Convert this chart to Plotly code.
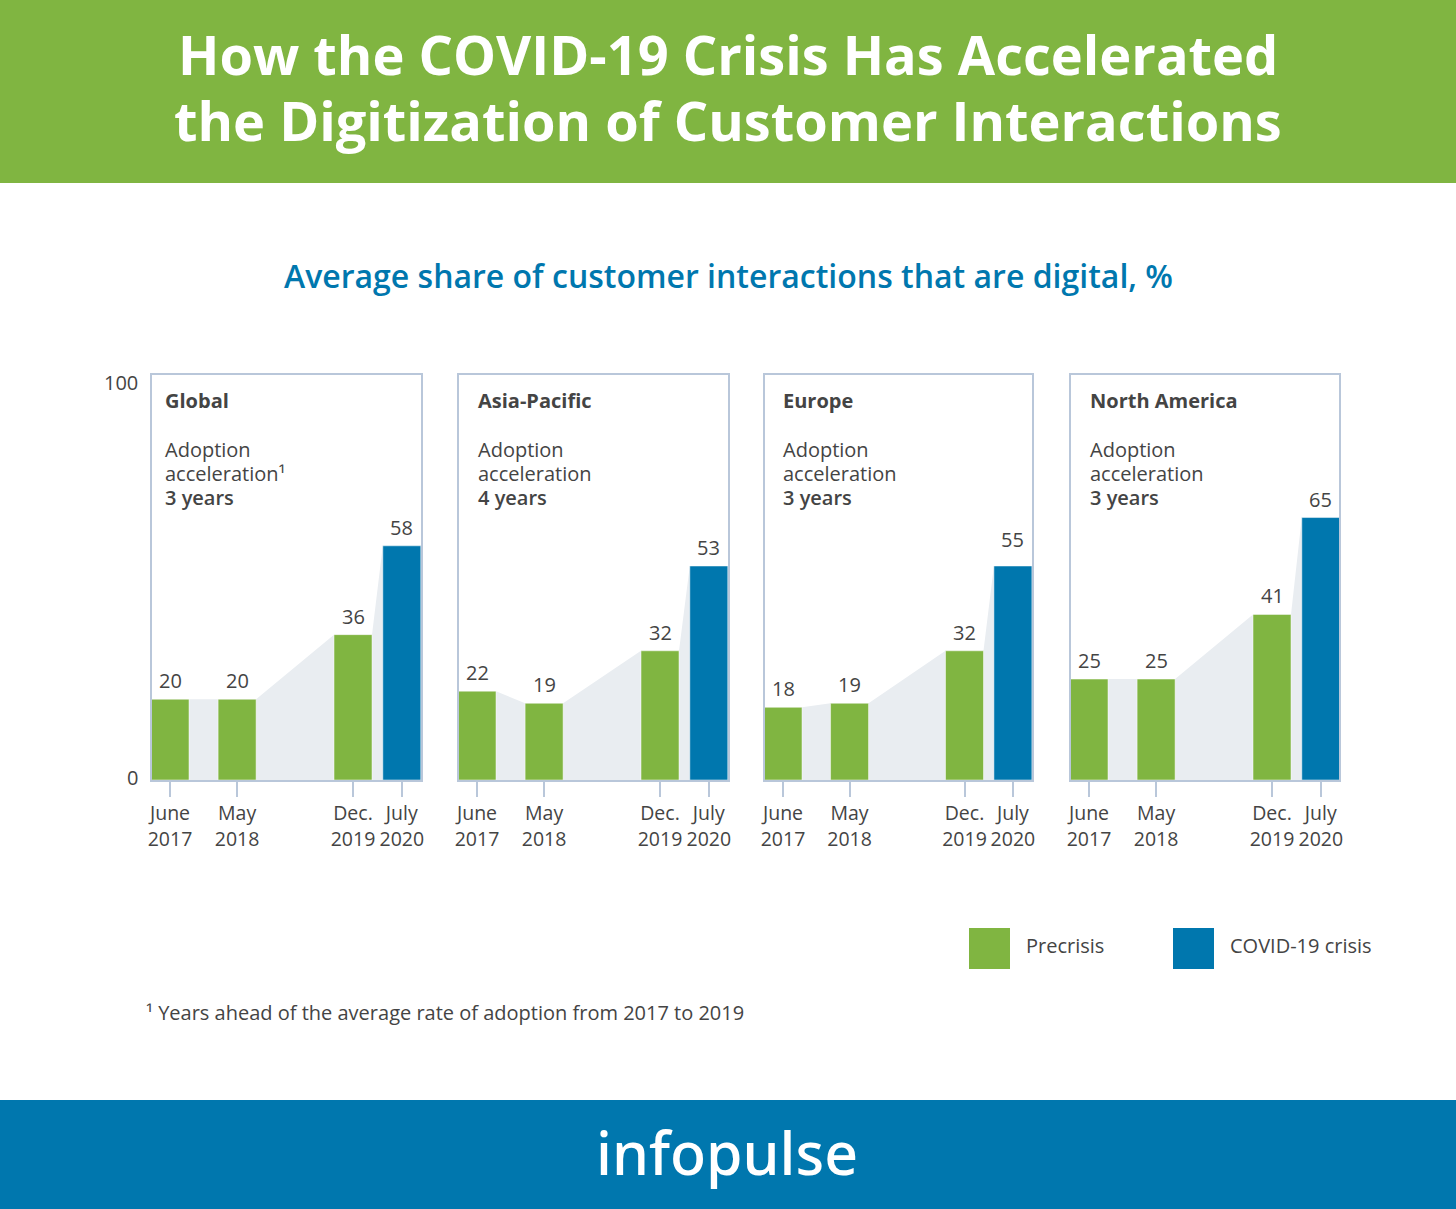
import plotly.graph_objects as go

W, H = 1456, 1209
GREEN, BLUE, AREA, FRAME, TEXT = "#80b541", "#0077ae", "#e9edf1", "#b9c7da", "#444444"
FONT = "Open Sans"

# ---- data ----
regions = ["Global", "Asia-Pacific", "Europe", "North America"]
acceleration = ["3 years", "4 years", "3 years", "3 years"]
months_since_start = [0, 11, 30, 38]
period_labels = ["June<br>2017", "May<br>2018", "Dec.<br>2019", "July<br>2020"]
global_values = [20, 20, 36, 58]
asia_values = [22, 19, 32, 53]
europe_values = [18, 19, 32, 55]
north_america_values = [25, 25, 41, 65]
# In the source the Europe July 2020 bar is drawn at the height of 53
europe_drawn = [18, 19, 32, 53]

labels_by_region = [global_values, asia_values, europe_values, north_america_values]
heights_by_region = [global_values, asia_values, europe_drawn, north_america_values]
colors = [GREEN, GREEN, GREEN, BLUE]

# ---- layout (pixels of the picture) ----
panel_edges = [(151, 422), (458, 729), (764, 1033), (1070, 1340)]
panel_scales = [6.1, 6.1, 6.05, 6.1]
text_left = [163, 476, 781, 1088]
plot_top, plot_bottom = 375, 780
bar_px = 38
first_bar_offset = 18
y_top = 100.3


def px(x):
    return x / W


def py(y):
    return 1 - y / H


def note(x, y, text, size=20, color=TEXT, anchor="left", weight=None):
    font = dict(family=FONT, size=size, color=color)
    if weight:
        font["weight"] = weight
    return dict(xref="paper", yref="paper", x=px(x), y=py(y), text=text, showarrow=False,
                xanchor=anchor, yanchor="middle", font=font, align=anchor)


fig = go.Figure()
annotations = []
shapes = [
    dict(type="rect", xref="paper", yref="paper", x0=0, x1=1, y0=py(183), y1=1, fillcolor=GREEN, line_width=0, layer="below"),
    dict(type="rect", xref="paper", yref="paper", x0=0, x1=1, y0=0, y1=py(1100), fillcolor=BLUE, line_width=0, layer="below"),
    dict(type="rect", xref="paper", yref="paper", x0=px(969), x1=px(1010), y0=py(969), y1=py(928), fillcolor=GREEN, line_width=0),
    dict(type="rect", xref="paper", yref="paper", x0=px(1173), x1=px(1214), y0=py(969), y1=py(928), fillcolor=BLUE, line_width=0),
]

for i, region in enumerate(regions):
    n = i + 1
    over = n + 4
    xa, ya, ya_over = f"x{n}", f"y{n}", f"y{over}"
    left, right = panel_edges[i]
    left, right = left + 1, right - 1
    scale = panel_scales[i]
    bar_width = bar_px / scale
    x_left = -first_bar_offset / scale
    heights = heights_by_region[i]

    # grey silhouette that links the bars (base axes, so it lies under the bars)
    area_x, area_y = [], []
    for m, h in zip(months_since_start, heights):
        area_x += [m - bar_width / 2, m + bar_width / 2]
        area_y += [h, h]
    fig.add_trace(go.Scatter(x=area_x, y=area_y, xaxis=xa, yaxis=ya, mode="lines", line_width=0,
                             fill="tozeroy", fillcolor=AREA, hoverinfo="skip", showlegend=False))
    fig.add_trace(go.Bar(x=months_since_start, y=heights, width=bar_width, xaxis=xa, yaxis=ya_over,
                         marker=dict(color=colors, line=dict(color="white", width=0.5)),
                         showlegend=False))

    axis_key = "xaxis" if n == 1 else f"xaxis{n}"
    yaxis_key = "yaxis" if n == 1 else f"yaxis{n}"
    fig.update_layout({
        axis_key: dict(domain=[px(left), px(right)], range=[x_left, x_left + (right - left) / scale],
                       anchor=ya, tickmode="array", tickvals=months_since_start, ticktext=period_labels,
                       ticks="outside", ticklen=15, tickwidth=2, tickcolor=FRAME,
                       showline=True, linecolor=FRAME, linewidth=2, mirror=True, showgrid=False,
                       zeroline=False, fixedrange=True,
                       tickfont=dict(family=FONT, size=19.5, color=TEXT)),
        yaxis_key: dict(domain=[py(plot_bottom), py(plot_top)], range=[0, y_top], anchor=xa,
                        showticklabels=False, ticks="", showline=True, linecolor=FRAME, linewidth=2,
                        mirror=True, showgrid=False, zeroline=False, fixedrange=True),
        f"yaxis{over}": dict(domain=[py(plot_bottom), py(plot_top)], range=[0, y_top], anchor=xa,
                             overlaying=ya, visible=False, fixedrange=True),
    })

    # value labels
    for m, v in zip(months_since_start, labels_by_region[i]):
        annotations.append(dict(xref=xa, yref=ya, x=m, y=v, text=str(v), showarrow=False,
                                yanchor="bottom", yshift=3,
                                font=dict(family=FONT, size=20, color=TEXT)))

    # panel captions
    marker = "¹" if i == 0 else ""
    annotations += [
        note(text_left[i], 400, region, weight=700),
        note(text_left[i], 450, "Adoption"),
        note(text_left[i], 474, "acceleration" + marker),
        note(text_left[i], 497, acceleration[i], weight=600),
    ]

annotations += [
    note(728, 54, "How the COVID-19 Crisis Has Accelerated", size=54.15, color="white", anchor="center", weight=700),
    note(728, 120, "the Digitization of Customer Interactions", size=54.15, color="white", anchor="center", weight=700),
    note(728, 276, "Average share of customer interactions that are digital, %", size=32, color=BLUE,
         anchor="center", weight=600),
    note(140, 382, "100", anchor="right"),
    note(140, 777, "0", anchor="right"),
    note(1024, 946, "Precrisis"),
    note(1228, 946, "COVID-19 crisis"),
    note(144, 1012, "¹ Years ahead of the average rate of adoption from 2017 to 2019"),
]
logo = note(727, 1152, "infopulse", size=59, color="white", anchor="center", weight=500)
logo["font"]["family"] = "Noto Sans"
annotations.append(logo)

fig.update_layout(width=W, height=H, margin=dict(l=0, r=0, t=0, b=0, autoexpand=False),
                  paper_bgcolor="white", plot_bgcolor="white", annotations=annotations,
                  shapes=shapes, showlegend=False, font=dict(family=FONT, color=TEXT))

fig.write_html("out.html", config={"displayModeBar": False},
               post_script="document.body.style.margin='0';document.documentElement.style.overflow='hidden';")
